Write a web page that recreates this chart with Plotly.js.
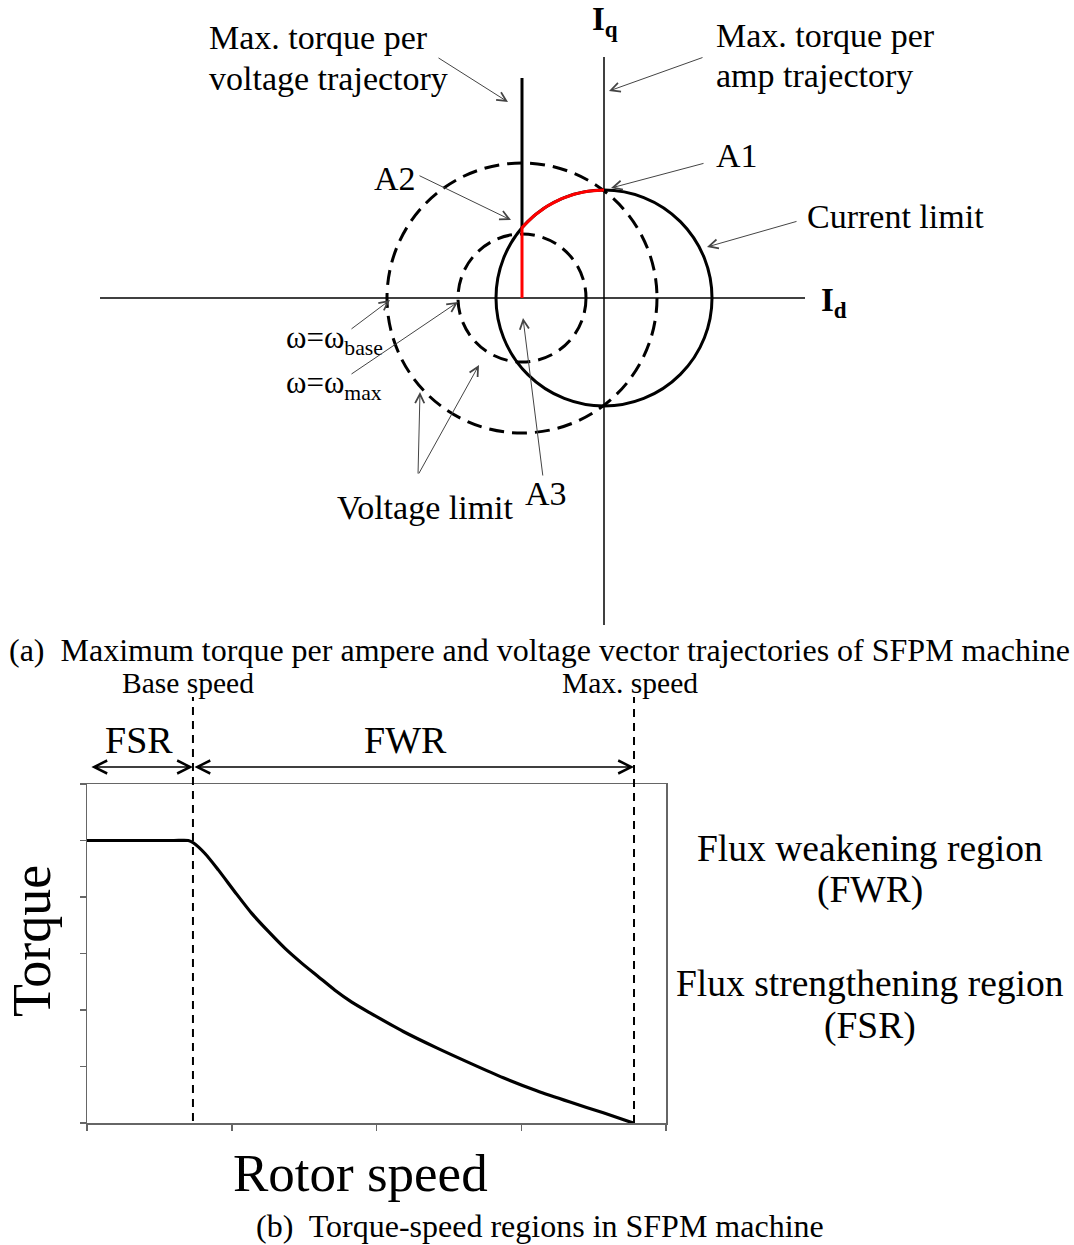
<!DOCTYPE html>
<html><head><meta charset="utf-8">
<script src="https://cdn.plot.ly/plotly-3.0.1.min.js"></script>
<style>html,body{margin:0;padding:0;background:#fff;}#chart{width:1074px;height:1245px;}</style>
</head><body><div id="chart"></div>
<script>
// ---------- (a) Id-Iq vector diagram (drawing units) ----------
const currentLimitCenter = [0, 0];
const currentLimitRadius = 108;
const voltageLimitCenter = [-82, 0];
const voltageLimitRadii = [135, 64];      // omega = omega_base, omega = omega_max
const mtpvId = -82;                        // max torque per voltage trajectory (Id)
const mtpvIqBlack = [70, 220];
const idAxisSpan = [-504, 201];
const iqAxisSpan = [-327, 241];

// ---------- (b) torque-speed curve ----------
const rotorSpeed = [0, 0.35, 0.60, 0.70, 0.734, 0.815, 0.907, 1.022, 1.138, 1.253, 1.368, 1.483, 1.598, 1.713,
                    1.829, 1.955, 2.185, 2.416, 2.646, 2.876, 3.107, 3.337, 3.567, 3.774];
const torque     = [5.0, 5.0, 5.0, 5.0, 4.96, 4.77, 4.48, 4.09, 3.71, 3.39, 3.09, 2.83, 2.59, 2.35,
                    2.14, 1.95, 1.62, 1.33, 1.06, 0.80, 0.57, 0.37, 0.18, 0.0];
const baseSpeed = 0.732;
const maxSpeed = 3.779;
const speedTicks = [0, 1, 2, 3, 4];
const torqueTicks = [0, 1, 2, 3, 4, 5, 6];

const W = 1074, H = 1245;
const FONT = 'Liberation Serif, Times New Roman, serif';
const px = x => x / W;
const py = y => 1 - y / H;

// red part of trajectory: vertical from Id axis up to A2, then along current limit to A1
const R = currentLimitRadius;
const a2Iq = Math.sqrt(R * R - (mtpvId - currentLimitCenter[0]) ** 2);
const a2Ang = Math.atan2(a2Iq, mtpvId - currentLimitCenter[0]);
const redX = [mtpvId], redY = [0];
for (let i = 0; i <= 40; i++) {
  const t = a2Ang + (Math.PI / 2 - a2Ang) * i / 40;
  redX.push(currentLimitCenter[0] + R * Math.cos(t));
  redY.push(currentLimitCenter[1] + R * Math.sin(t));
}

const traces = [
  {x: idAxisSpan, y: [0, 0], mode: 'lines', line: {color: '#000', width: 1.5}, xaxis: 'x', yaxis: 'y', hoverinfo: 'skip'},
  {x: [0, 0], y: iqAxisSpan, mode: 'lines', line: {color: '#000', width: 1.5}, xaxis: 'x', yaxis: 'y', hoverinfo: 'skip'},
  {x: [mtpvId, mtpvId], y: mtpvIqBlack, mode: 'lines', line: {color: '#000', width: 3}, xaxis: 'x', yaxis: 'y', hoverinfo: 'skip'},
  {x: redX, y: redY, mode: 'lines', line: {color: '#ff0000', width: 3}, xaxis: 'x', yaxis: 'y', hoverinfo: 'skip'},
  {x: rotorSpeed, y: torque, mode: 'lines', line: {color: '#000', width: 3.2, shape: 'spline', smoothing: 0.7}, xaxis: 'x2', yaxis: 'y2', hoverinfo: 'skip'}
];

const shapes = [
  {type: 'circle', xref: 'x', yref: 'y', layer: 'below',
   x0: currentLimitCenter[0] - R, x1: currentLimitCenter[0] + R, y0: currentLimitCenter[1] - R, y1: currentLimitCenter[1] + R,
   line: {color: '#000', width: 3}},
  ...voltageLimitRadii.map(r => ({type: 'circle', xref: 'x', yref: 'y', layer: 'below',
   x0: voltageLimitCenter[0] - r, x1: voltageLimitCenter[0] + r, y0: voltageLimitCenter[1] - r, y1: voltageLimitCenter[1] + r,
   line: {color: '#000', width: 3, dash: '15px,8px'}})),
  {type: 'line', xref: 'x2', yref: 'paper', x0: baseSpeed, x1: baseSpeed, y0: py(1121), y1: py(697),
   line: {color: '#000', width: 2, dash: '8px,6px'}},
  {type: 'line', xref: 'x2', yref: 'paper', x0: maxSpeed, x1: maxSpeed, y0: py(1123), y1: py(697),
   line: {color: '#000', width: 2, dash: '8px,6px'}}
];

function txt(text, x, y, size, opts) {
  return Object.assign({text: text, xref: 'paper', yref: 'paper', x: px(x), y: py(y), showarrow: false,
    xanchor: 'center', yanchor: 'middle', font: {family: FONT, size: size, color: '#000'}}, opts || {});
}
function arr(tx, ty, hx, hy) {
  return {text: '', xref: 'paper', yref: 'paper', x: px(hx), y: py(hy), ax: tx - hx, ay: ty - hy,
    axref: 'pixel', ayref: 'pixel', showarrow: true, arrowhead: 5, arrowsize: 1.8, arrowwidth: 1,
    arrowcolor: '#444', standoff: 0, startstandoff: 0};
}

const annotations = [
  txt('Max. torque per', 207, 38, 34, {xanchor: 'left'}),
  txt('voltage trajectory', 207, 78, 34, {xanchor: 'left'}),
  txt('Max. torque per', 714, 35, 34, {xanchor: 'left'}),
  txt('amp trajectory', 714, 76, 34, {xanchor: 'left'}),
  txt('<b>I<sub>q</sub></b>', 605, 22, 33),
  txt('<b>I<sub>d</sub></b>', 834, 303, 33),
  txt('A1', 737, 155, 34),
  txt('A2', 395, 178, 34),
  txt('Current limit', 895, 216, 34),
  txt('ω=ω<sub>base</sub>', 284, 340, 31, {xanchor: 'left'}),
  txt('ω=ω<sub>max</sub>', 284, 385, 31, {xanchor: 'left'}),
  txt('Voltage limit', 425, 507, 34),
  txt('A3', 546, 494, 34),
  txt('(a)  Maximum torque per ampere and voltage vector trajectories of SFPM machine', 539, 650, 32),
  arr(437, 57, 508, 102),
  arr(704, 57, 609, 91),
  arr(705, 163, 611, 188),
  arr(418, 175, 511, 220),
  arr(798, 221, 707, 247),
  arr(350, 330, 390, 300),
  arr(350, 375, 458, 302),
  arr(418, 475, 420, 392),
  arr(418, 475, 479, 365),
  arr(543, 477, 523, 318),
  // (b)
  txt('Base speed', 188, 683, 29.5),
  txt('Max. speed', 630, 683, 29.5),
  txt('FSR', 139, 740, 38),
  txt('FWR', 405, 740, 38),
  {text: '', xref: 'x2', yref: 'paper', x: baseSpeed, y: py(767), axref: 'x2', ax: 0.02, ayref: 'pixel', ay: 0,
   showarrow: true, arrowside: 'end+start', arrowhead: 5, startarrowhead: 5, arrowsize: 1.7, startarrowsize: 1.7,
   arrowwidth: 1.5, arrowcolor: '#000', standoff: 0, startstandoff: 0},
  {text: '', xref: 'x2', yref: 'paper', x: maxSpeed, y: py(767), axref: 'x2', ax: baseSpeed, ayref: 'pixel', ay: 0,
   showarrow: true, arrowside: 'end+start', arrowhead: 5, startarrowhead: 5, arrowsize: 1.7, startarrowsize: 1.7,
   arrowwidth: 1.5, arrowcolor: '#000', standoff: 0, startstandoff: 0},
  txt('Flux weakening region', 870, 848, 37.5),
  txt('(FWR)', 870, 890, 37.5),
  txt('Flux strengthening region', 870, 983, 37.5),
  txt('(FSR)', 870, 1026, 37.5),
  txt('Torque', 32, 941, 54, {textangle: -90}),
  txt('Rotor speed', 360, 1173, 53),
  txt('(b)  Torque-speed regions in SFPM machine', 540, 1226, 32)
];

const axOff = {visible: false, showgrid: false, zeroline: false, fixedrange: true};
const layout = {
  width: W, height: H,
  margin: {l: 0, r: 0, t: 0, b: 0},
  paper_bgcolor: '#fff', plot_bgcolor: '#fff',
  showlegend: false,
  xaxis: Object.assign({domain: [0, 1], range: [-604, 470], anchor: 'y'}, axOff),
  yaxis: Object.assign({domain: [py(630), 1], range: [-332, 298], anchor: 'x'}, axOff),
  xaxis2: {domain: [px(87), px(666)], range: [0, 4], anchor: 'y2', showline: true, mirror: true,
    linecolor: '#666', linewidth: 1.5, ticks: 'outside', ticklen: 6, tickwidth: 1.5, tickcolor: '#666',
    tickvals: speedTicks, showticklabels: false, showgrid: false, zeroline: false, fixedrange: true},
  yaxis2: {domain: [py(1123), py(784)], range: [0, 6], anchor: 'x2', showline: true, mirror: true,
    linecolor: '#666', linewidth: 1.5, ticks: 'outside', ticklen: 6, tickwidth: 1.5, tickcolor: '#666',
    tickvals: torqueTicks, showticklabels: false, showgrid: false, zeroline: false, fixedrange: true},
  shapes: shapes,
  annotations: annotations
};

Plotly.newPlot('chart', traces, layout, {displayModeBar: false, staticPlot: true});
</script>
</body></html>
